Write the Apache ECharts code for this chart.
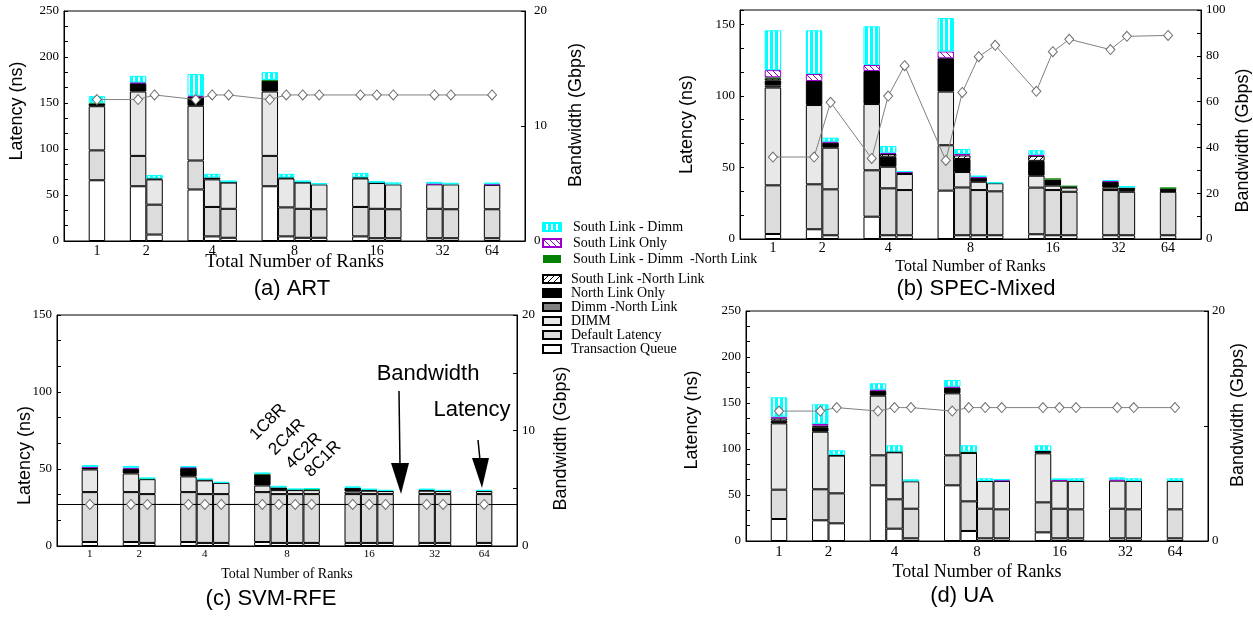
<!DOCTYPE html>
<html>
<head>
<meta charset="utf-8">
<script src="https://cdn.jsdelivr.net/npm/echarts@6/dist/echarts.min.js"></script>
<style>
html, body { margin: 0; padding: 0; background: #fff; }
#main { width: 1253px; height: 617px; }
</style>
</head>
<body>
<div id="main"></div>
<script>
// groups of the x axis and how many configurations each one holds
var groupLabels = ['1', '2', '4', '8', '16', '32', '64'];
var barsPerGroup = [1, 2, 3, 4, 3, 2, 1];
// stack layers, bottom to top
var layerNames = ['Transaction Queue', 'Default Latency', 'DIMM', 'Dimm -North Link', 'North Link Only',
  'South Link -North Link', 'South Link - Dimm  -North Link', 'South Link Only', 'South Link - Dimm'];

// (a) ART - latency parts (ns) and bandwidth (Gbps)
var artQueue          = [66, 59.5, 7, 56, 5, 3.5, 59.5, 5, 3.5, 3.5, 5, 3, 3, 3, 3, 3];
var artDefault        = [32.5, 33, 32.5, 31.5, 32, 31.5, 33, 31.5, 31.5, 31, 32, 32, 31.5, 32, 31.5, 31.5];
var artDimm           = [48, 70, 27.5, 59.5, 30, 28.5, 70, 31.5, 28.5, 27, 31, 28, 27, 26.6, 27, 26.5];
var artDimmNorth      = [0, 0, 0, 0, 0, 0, 0, 0, 0, 0, 0, 0, 0, 0, 0, 0];
var artNorth          = [3, 9, 1, 10, 2, 0.3, 11.5, 1, 0.3, 0, 1.2, 0.3, 0, 0, 0, 0];
var artSouthNorth     = [0, 0, 0, 0, 0, 0, 0, 0, 0, 0, 0, 0, 0, 0, 0, 0];
var artSouthDimmNorth = [0.8, 0, 0, 0, 0, 0, 1, 0, 0, 0, 0, 0, 0, 0, 0, 0];
var artSouthOnly      = [0, 0.8, 0, 1, 0, 0, 0, 0, 0, 0, 0, 0, 0, 0.7, 0, 0.7];
var artSouthDimm      = [7.2, 7.2, 3.7, 23.5, 4, 2, 8.5, 4, 2, 1.5, 4.8, 2, 2.2, 2, 1.8, 1.8];
var artBandwidth      = [12.3, 12.3, 12.7, 12.3, 12.7, 12.7, 12.3, 12.7, 12.7, 12.7, 12.7, 12.7, 12.7, 12.7, 12.7, 12.7];

// (b) SPEC-Mixed
var specQueue          = [3.5, 6.8, 2.6, 15.6, 2.6, 2.6, 33.8, 2.6, 2.6, 2.6, 3.3, 2.6, 2.6, 2.6, 2.6, 2.6];
var specDefault        = [34, 31.4, 32.1, 32.4, 32.8, 31.6, 31.7, 33.4, 31.6, 30.7, 32.6, 31.6, 30.4, 31.6, 30.4, 30.4];
var specDimm           = [68.3, 55.4, 29.1, 46.3, 15.1, 11.2, 37.5, 10.8, 5.8, 5.7, 8.3, 3.1, 2.9, 1.7, 1.2, 0.5];
var specDimmNorth      = [1.5, 0, 0, 0, 0, 0, 0, 0, 0, 0, 0, 0, 0, 0, 0, 0];
var specNorth          = [3.5, 16.8, 3.5, 23.1, 7, 1, 23.3, 9.1, 2.8, 0, 10.4, 4.2, 0.7, 4.1, 1.7, 1.5];
var specSouthNorth     = [1.5, 0, 0, 0, 1.9, 0, 0, 2.5, 0, 0, 3.5, 0, 0, 0, 0, 0];
var specSouthDimmNorth = [0.7, 0, 0, 0, 0, 0, 0, 0, 0, 0, 0, 0.9, 0.7, 0, 0, 1.1];
var specSouthOnly      = [5, 4.9, 0.7, 4.2, 0.9, 0.5, 4.7, 1, 0.7, 0, 0.8, 0, 0, 0.5, 0, 0];
var specSouthDimm      = [27.8, 30.5, 2.8, 27, 4.7, 0.5, 23.4, 3.5, 0.7, 0.6, 3.1, 0, 0, 0.7, 1.1, 0];
var specBandwidth      = [35.8, 35.8, 59.7, 35.2, 62.4, 75.7, 34.3, 64, 79.6, 84.6, 64.5, 81.8, 87.2, 82.7, 88.5, 88.9];

// (c) SVM-RFE
var svmQueue          = [2.6, 2.6, 2, 2.6, 2, 2, 2.6, 2, 2, 2, 2, 2, 2, 2, 2, 2];
var svmDefault        = [32.4, 32.4, 31.7, 32.4, 31.7, 31.7, 32.4, 31.7, 31.7, 31.7, 31.7, 31.7, 31.7, 31.7, 31.7, 31.7];
var svmDimm           = [14.7, 12.1, 9.7, 10.2, 8.9, 7.3, 4.3, 2.6, 2.6, 2.6, 1.7, 2.2, 2, 2.2, 2, 2];
var svmDimmNorth      = [0, 0, 0, 0, 0, 0, 0, 0, 0, 0, 0, 0, 0, 0, 0, 0];
var svmNorth          = [1.3, 3, 0, 5.4, 0.6, 0, 7.2, 1.7, 0.4, 0, 2.4, 0.6, 0, 0.6, 0, 0];
var svmSouthNorth     = [0, 0, 0, 0, 0, 0, 0, 0, 0, 0, 0, 0, 0, 0, 0, 0];
var svmSouthDimmNorth = [0, 0, 0.5, 0, 0, 0, 0.6, 0, 0, 0.7, 0, 0, 0, 0, 0, 0];
var svmSouthOnly      = [0.4, 0.7, 0, 0.6, 0, 0, 0, 0, 0, 0, 0, 0, 0, 0, 0, 0];
var svmSouthDimm      = [1.1, 1.2, 0.4, 0.5, 0.5, 0.7, 0.4, 1.1, 0.5, 0.4, 0.9, 0.7, 0.8, 0.7, 0.8, 0.8];
var svmBandwidth      = [3.6, 3.6, 3.6, 3.6, 3.6, 3.6, 3.6, 3.6, 3.6, 3.6, 3.6, 3.6, 3.6, 3.6, 3.6, 3.6];

// (d) UA
var uaQueue          = [23.9, 22.5, 19.2, 60.5, 13.4, 2.9, 60.5, 10.9, 2.9, 2.9, 9.4, 2.9, 2.9, 2.9, 2.9, 2.9];
var uaDefault        = [31.9, 33.7, 32.6, 32.6, 31.9, 32.2, 32.6, 32.2, 32.2, 31.5, 32.6, 32.2, 31.5, 32.2, 31.5, 31.5];
var uaDimm           = [72.1, 62.6, 41, 64.9, 51.1, 29.8, 67.4, 52.6, 30.1, 30.8, 53.3, 30.5, 30.8, 30.5, 30.8, 30.8];
var uaDimmNorth      = [0, 0, 0, 0, 0, 0, 0, 0, 0, 0, 0, 0, 0, 0, 0, 0];
var uaNorth          = [2.9, 4.8, 0.7, 5.4, 0.7, 0, 6.2, 0.7, 0, 0, 2.5, 0, 0, 0, 0, 0];
var uaSouthNorth     = [2.5, 1.8, 0, 0, 0, 0, 0, 0, 0, 0, 0, 0, 0, 0, 0, 0];
var uaSouthDimmNorth = [0, 0, 0, 0, 0, 0, 0, 0.7, 0, 0, 0, 0, 0, 0, 0, 0];
var uaSouthOnly      = [1.8, 1.8, 0, 1.1, 0, 0, 1.1, 0, 0, 0.8, 0, 0.7, 0, 1.1, 0, 0];
var uaSouthDimm      = [21.1, 21.4, 5.1, 6.9, 6.9, 2.1, 7.2, 6.9, 2.9, 1.4, 6.2, 1.8, 2.9, 2.5, 2.9, 2.9];
var uaBandwidth      = [11.3, 11.3, 11.6, 11.3, 11.6, 11.6, 11.3, 11.6, 11.6, 11.6, 11.6, 11.6, 11.6, 11.6, 11.6, 11.6];

var serif = 'Liberation Serif';
var sans = 'Liberation Sans';

// x layout in half-bar steps: each bar is 2 steps wide, 3 steps of space around every group
var groupSpace = 3;
var barSlot = [];
var groupSlot = [];
var pos = groupSpace;
barsPerGroup.forEach(function (n) {
  var first = pos + 1;
  for (var i = 0; i < n; i++) {
    barSlot.push(pos + 1);
    pos += 2;
  }
  groupSlot.push((first + pos - 1) / 2);
  pos += groupSpace;
});
var slotNames = [];
for (var s = 0; s <= pos; s++) slotNames.push('s' + s);
var slotLabel = {};
groupSlot.forEach(function (k, j) { slotLabel['s' + k] = groupLabels[j]; });

function spread(values) {
  var out = slotNames.map(function () { return '-'; });
  values.forEach(function (v, i) { out[barSlot[i]] = v > 0 ? v : '-'; });
  return out;
}

function makePattern(w, h, draw) {
  var c = document.createElement('canvas');
  c.width = w; c.height = h;
  var ctx = c.getContext('2d');
  ctx.fillStyle = '#fff';
  ctx.fillRect(0, 0, w, h);
  draw(ctx, w, h);
  return { image: c, repeat: 'repeat' };
}
function diagonal(color, down) {
  return makePattern(6, 6, function (ctx, w, h) {
    ctx.strokeStyle = color;
    ctx.lineWidth = 1;
    for (var k = -1; k <= 1; k++) {
      ctx.beginPath();
      if (down) { ctx.moveTo(k * w, 0); ctx.lineTo(k * w + w, h); }
      else { ctx.moveTo(k * w, h); ctx.lineTo(k * w + w, 0); }
      ctx.stroke();
    }
  });
}
var cyanStripes = makePattern(5, 4, function (ctx, w, h) {
  ctx.fillStyle = '#00ffff';
  ctx.fillRect(0, 0, 3, h);
});

var layerStyles = [
  { color: '#ffffff', borderColor: '#000', borderWidth: 1 },
  { color: '#dcdcdc', borderColor: '#000', borderWidth: 1 },
  { color: '#e8e8e8', borderColor: '#000', borderWidth: 1 },
  { color: '#808080', borderColor: '#000', borderWidth: 1 },
  { color: '#000000', borderColor: '#000', borderWidth: 1 },
  { color: diagonal('#000', false), borderColor: '#000', borderWidth: 1 },
  { color: '#008000', borderColor: '#008000', borderWidth: 0 },
  { color: diagonal('#9900cc', true), borderColor: '#9900cc', borderWidth: 1 },
  { color: cyanStripes, borderColor: '#00ffff', borderWidth: 1 }
];

var panels = [
  {
    layers: [artQueue, artDefault, artDimm, artDimmNorth, artNorth, artSouthNorth, artSouthDimmNorth, artSouthOnly, artSouthDimm],
    bandwidth: artBandwidth, lineColor: '#808080', fullLine: false,
    grid: { left: 64, top: 11, width: 461, height: 230 },
    yMax: 250, y2Max: 20, y2Interval: 10, y2Minor: 0, y2Show: [0, 10, 20], y2Margin: 9,
    xLabelSize: 14, xLabelMargin: 3, xNameSize: 19, xNameGap: 12,
    yNameGap: 38, yNamePad: [0, 0, 0, 30], y2NameGap: 42, y2NamePad: [0, 0, 0, 22],
    caption: '(a) ART', capX: 292, capY: 290
  },
  {
    layers: [specQueue, specDefault, specDimm, specDimmNorth, specNorth, specSouthNorth, specSouthDimmNorth, specSouthOnly, specSouthDimm],
    bandwidth: specBandwidth, lineColor: '#808080', fullLine: false,
    grid: { left: 740, top: 10, width: 461, height: 229 },
    yMax: 160, y2Max: 100, y2Interval: 20, y2Minor: 2, y2Show: [0, 20, 40, 60, 80, 100], y2Margin: 5,
    xLabelSize: 14, xLabelMargin: 2, xNameSize: 16, xNameGap: 20,
    yNameGap: 44, yNamePad: [0, 0, 0, 0], y2NameGap: 33, y2NamePad: [0, 32, 0, 0],
    caption: '(b) SPEC-Mixed', capX: 976, capY: 290
  },
  {
    layers: [svmQueue, svmDefault, svmDimm, svmDimmNorth, svmNorth, svmSouthNorth, svmSouthDimmNorth, svmSouthOnly, svmSouthDimm],
    bandwidth: svmBandwidth, lineColor: '#000', fullLine: true,
    grid: { left: 57, top: 315, width: 460, height: 231 },
    yMax: 150, y2Max: 20, y2Interval: 5, y2Minor: 0, y2Show: [0, 10, 20], y2Margin: 5,
    xLabelSize: 11, xLabelMargin: 3, xNameSize: 14, xNameGap: 21,
    yNameGap: 23, yNamePad: [0, 50, 0, 0], y2NameGap: 35, y2NamePad: [0, 16, 0, 0],
    caption: '(c) SVM-RFE', capX: 271, capY: 600
  },
  {
    layers: [uaQueue, uaDefault, uaDimm, uaDimmNorth, uaNorth, uaSouthNorth, uaSouthDimmNorth, uaSouthOnly, uaSouthDimm],
    bandwidth: uaBandwidth, lineColor: '#808080', fullLine: false,
    grid: { left: 746, top: 311, width: 462, height: 230 },
    yMax: 250, y2Max: 20, y2Interval: 10, y2Minor: 0, y2Show: [0, 20], y2Margin: 4,
    xLabelSize: 15, xLabelMargin: 4, xNameSize: 18, xNameGap: 22,
    yNameGap: 45, yNamePad: [0, 0, 0, 12], y2NameGap: 21, y2NamePad: [0, 0, 0, 22],
    caption: '(d) UA', capX: 962, capY: 597
  }
];

function onList(list) {
  return function (v) {
    for (var i = 0; i < list.length; i++) if (Math.abs(list[i] - v) < 1e-6) return String(list[i]);
    return '';
  };
}

var grids = [], xAxes = [], yAxes = [], series = [], titles = [];
var tick = { show: true, inside: true, length: 4, lineStyle: { color: '#000', width: 1 } };

panels.forEach(function (p, g) {
  var barW = p.grid.width / pos * 2;
  grids.push({
    left: p.grid.left, top: p.grid.top, width: p.grid.width, height: p.grid.height,
    show: true, borderColor: '#000', borderWidth: 1, backgroundColor: 'transparent',
    containLabel: false, outerBoundsMode: 'none'
  });
  xAxes.push({
    type: 'category', gridIndex: g, data: slotNames, boundaryGap: false,
    axisLine: { show: true, lineStyle: { color: '#000', width: 1 } },
    axisTick: { show: false }, splitLine: { show: false },
    axisLabel: {
      interval: 0, color: '#000', fontFamily: serif, fontSize: p.xLabelSize, margin: p.xLabelMargin,
      formatter: function (v) { return slotLabel[v] || ''; }
    },
    name: 'Total Number of Ranks', nameLocation: 'middle', nameGap: p.xNameGap, nameMoveOverlap: false,
    nameTextStyle: { fontFamily: serif, fontSize: p.xNameSize, color: '#000' }
  });
  yAxes.push({
    type: 'value', gridIndex: g, position: 'left', min: 0, max: p.yMax, interval: 50,
    axisLine: { show: true, lineStyle: { color: '#000', width: 1 } },
    axisTick: tick,
    minorTick: { show: true, splitNumber: 3, length: 4, lineStyle: { color: '#000', width: 1 } },
    splitLine: { show: false }, minorSplitLine: { show: false },
    axisLabel: {
      color: '#000', fontFamily: serif, fontSize: 13, margin: 5,
      formatter: function (v) { return v % 50 === 0 ? String(v) : ''; }
    },
    name: 'Latency (ns)', nameLocation: 'middle', nameRotate: 90, nameGap: p.yNameGap, nameMoveOverlap: false,
    nameTextStyle: { fontFamily: sans, fontSize: 18, color: '#000', padding: p.yNamePad }
  });
  yAxes.push({
    type: 'value', gridIndex: g, position: 'right', min: 0, max: p.y2Max, interval: p.y2Interval,
    axisLine: { show: true, lineStyle: { color: '#000', width: 1 } },
    axisTick: tick,
    minorTick: { show: p.y2Minor > 0, splitNumber: p.y2Minor || 2, length: 4, lineStyle: { color: '#000', width: 1 } },
    splitLine: { show: false },
    axisLabel: { color: '#000', fontFamily: serif, fontSize: 13, margin: p.y2Margin, formatter: onList(p.y2Show) },
    name: 'Bandwidth (Gbps)', nameLocation: 'middle', nameRotate: 90, nameGap: p.y2NameGap, nameMoveOverlap: false,
    nameTextStyle: { fontFamily: sans, fontSize: 18, color: '#000', padding: p.y2NamePad }
  });

  p.layers.forEach(function (values, k) {
    series.push({
      type: 'bar', name: layerNames[k], xAxisIndex: g, yAxisIndex: g * 2,
      stack: 'lat' + g, barWidth: barW,
      data: spread(values),
      itemStyle: layerStyles[k],
      emphasis: { disabled: true }
    });
  });

  var line = {
    type: 'line', name: 'Bandwidth', xAxisIndex: g, yAxisIndex: g * 2 + 1,
    data: spread(p.bandwidth), connectNulls: true,
    symbol: 'diamond', symbolSize: [9, 10], showAllSymbol: true,
    itemStyle: { color: '#fff', borderColor: '#6e6e6e', borderWidth: 1 },
    lineStyle: { color: p.lineColor, width: 1 },
    emphasis: { disabled: true }, z: 5
  };
  if (p.fullLine) {
    line.markLine = {
      silent: true, symbol: ['none', 'none'], label: { show: false },
      lineStyle: { color: p.lineColor, type: 'solid', width: 1 },
      data: [{ yAxis: p.bandwidth[0] }]
    };
  }
  series.push(line);

  titles.push({
    text: p.caption, left: p.capX, top: p.capY - 12, textAlign: 'center', padding: 0,
    textStyle: { fontFamily: sans, fontSize: 22, fontWeight: 'normal', color: '#000' }
  });
});

var legendNames = layerNames.slice().reverse();

var chart = echarts.init(document.getElementById('main'));
chart.setOption({
  animation: false,
  backgroundColor: '#fff',
  title: titles,
  grid: grids,
  xAxis: xAxes,
  yAxis: yAxes,
  legend: [
    {
      orient: 'vertical', left: 542, top: 220, padding: 0, icon: 'rect',
      itemWidth: 18, itemHeight: 8, itemGap: 2, selectedMode: false,
      data: legendNames.slice(0, 3),
      textStyle: { fontFamily: serif, fontSize: 14, color: '#000', lineHeight: 14, padding: [0, 0, 0, 7] }
    },
    {
      orient: 'vertical', left: 542, top: 272, padding: 0, icon: 'rect',
      itemWidth: 18, itemHeight: 8, itemGap: 0, selectedMode: false,
      data: legendNames.slice(3),
      textStyle: { fontFamily: serif, fontSize: 14, color: '#000', lineHeight: 14, padding: [0, 0, 0, 5] }
    }
  ],
  graphic: [
    { type: 'text', x: 268, y: 422, rotation: Math.PI / 4, style: { text: '1C8R', font: '17px "Liberation Sans"', fill: '#000', align: 'center', verticalAlign: 'middle' } },
    { type: 'text', x: 287, y: 437, rotation: Math.PI / 4, style: { text: '2C4R', font: '17px "Liberation Sans"', fill: '#000', align: 'center', verticalAlign: 'middle' } },
    { type: 'text', x: 304, y: 451, rotation: Math.PI / 4, style: { text: '4C2R', font: '17px "Liberation Sans"', fill: '#000', align: 'center', verticalAlign: 'middle' } },
    { type: 'text', x: 323, y: 459, rotation: Math.PI / 4, style: { text: '8C1R', font: '17px "Liberation Sans"', fill: '#000', align: 'center', verticalAlign: 'middle' } },
    { type: 'text', x: 428, y: 374, style: { text: 'Bandwidth', font: '22px "Liberation Sans"', fill: '#000', align: 'center', verticalAlign: 'middle' } },
    { type: 'line', shape: { x1: 399, y1: 391, x2: 400, y2: 466 }, style: { stroke: '#000', lineWidth: 1.5 } },
    { type: 'polygon', shape: { points: [[391, 463], [409, 463], [401, 494]] }, style: { fill: '#000' } },
    { type: 'text', x: 472, y: 410, style: { text: 'Latency', font: '22px "Liberation Sans"', fill: '#000', align: 'center', verticalAlign: 'middle' } },
    { type: 'line', shape: { x1: 478, y1: 440, x2: 480, y2: 460 }, style: { stroke: '#000', lineWidth: 1.5 } },
    { type: 'polygon', shape: { points: [[472, 458], [489, 458], [482, 488]] }, style: { fill: '#000' } }
  ],
  series: series
});
</script>
</body>
</html>
